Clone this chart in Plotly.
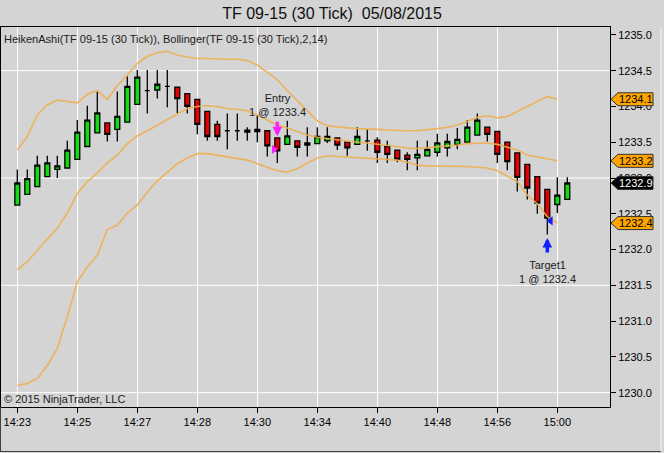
import plotly.graph_objects as go

# ---------------- data ----------------
bar_index = list(range(56))

ha_open = [1232.62, 1232.77, 1232.88, 1233.02, 1233.12, 1233.14, 1233.26, 1233.44, 1233.63, 1233.77,
           1233.68, 1233.78, 1234.03, 1234.22, 1234.23, 1234.28, 1234.27, 1234.18, 1234.10, 1233.93,
           1233.75, 1233.66, 1233.66, 1233.67, 1233.65, 1233.66, 1233.56, 1233.47, 1233.52, 1233.49,
           1233.48, 1233.52, 1233.56, 1233.50, 1233.47, 1233.52, 1233.53, 1233.44, 1233.39, 1233.32,
           1233.28, 1233.31, 1233.36, 1233.42, 1233.47, 1233.50, 1233.60, 1233.71, 1233.65, 1233.50,
           1233.35, 1233.19, 1233.02, 1232.84, 1232.63, 1232.70]
ha_high = [1233.12, 1233.12, 1233.31, 1233.31, 1233.31, 1233.52, 1233.81, 1234.01, 1234.21, 1233.77,
           1234.21, 1234.42, 1234.51, 1234.51, 1234.51, 1234.51, 1234.27, 1234.18, 1234.10, 1233.93,
           1233.80, 1233.90, 1233.90, 1233.71, 1233.88, 1233.66, 1233.56, 1233.80, 1233.52, 1233.71,
           1233.71, 1233.71, 1233.56, 1233.50, 1233.71, 1233.68, 1233.57, 1233.52, 1233.39, 1233.36,
           1233.52, 1233.52, 1233.62, 1233.62, 1233.70, 1233.81, 1233.90, 1233.71, 1233.65, 1233.50,
           1233.35, 1233.19, 1233.02, 1232.84, 1233.01, 1233.01]
ha_low = [1232.62, 1232.77, 1232.88, 1233.02, 1233.00, 1233.14, 1233.26, 1233.44, 1233.63, 1233.51,
          1233.51, 1233.78, 1234.03, 1233.90, 1234.11, 1233.99, 1233.91, 1233.90, 1233.61, 1233.52,
          1233.52, 1233.40, 1233.52, 1233.52, 1233.50, 1233.30, 1233.21, 1233.47, 1233.30, 1233.30,
          1233.48, 1233.49, 1233.39, 1233.31, 1233.47, 1233.38, 1233.21, 1233.21, 1233.22, 1233.11,
          1233.11, 1233.31, 1233.30, 1233.30, 1233.40, 1233.50, 1233.60, 1233.51, 1233.21, 1233.11,
          1232.81, 1232.70, 1232.50, 1232.21, 1232.51, 1232.70]
ha_close = [1232.93, 1232.99, 1233.18, 1233.21, 1233.17, 1233.39, 1233.64, 1233.81, 1233.91, 1233.61,
            1233.86, 1234.28, 1234.41, 1234.22, 1234.31, 1234.28, 1234.11, 1234.00, 1233.75, 1233.58,
            1233.58, 1233.66, 1233.66, 1233.64, 1233.68, 1233.45, 1233.38, 1233.59, 1233.43, 1233.46,
            1233.58, 1233.58, 1233.46, 1233.42, 1233.58, 1233.52, 1233.36, 1233.33, 1233.26, 1233.26,
            1233.33, 1233.40, 1233.49, 1233.51, 1233.54, 1233.71, 1233.81, 1233.61, 1233.33, 1233.23,
            1233.01, 1232.86, 1232.65, 1232.44, 1232.76, 1232.93]

band_index = list(range(55))
bb_upper = [1233.39, 1233.58, 1233.88, 1234.02, 1234.09, 1234.07, 1234.05, 1234.17, 1234.22, 1234.10,
            1234.29, 1234.44, 1234.60, 1234.70, 1234.75, 1234.77, 1234.72, 1234.69, 1234.67, 1234.67,
            1234.66, 1234.66, 1234.66, 1234.64, 1234.58, 1234.48, 1234.37, 1234.22, 1234.08, 1233.93,
            1233.80, 1233.73, 1233.71, 1233.70, 1233.69, 1233.69, 1233.68, 1233.67, 1233.66, 1233.66,
            1233.66, 1233.67, 1233.69, 1233.71, 1233.74, 1233.79, 1233.85, 1233.87, 1233.84, 1233.86,
            1233.93, 1234.00, 1234.07, 1234.14, 1234.10]
bb_middle = [1231.72, 1231.83, 1231.99, 1232.14, 1232.30, 1232.51, 1232.78, 1232.95, 1233.07, 1233.21,
             1233.32, 1233.48, 1233.59, 1233.66, 1233.74, 1233.81, 1233.90, 1233.97, 1234.00, 1234.01,
             1234.00, 1233.97, 1233.96, 1233.94, 1233.88, 1233.81, 1233.74, 1233.70, 1233.65, 1233.60,
             1233.57, 1233.55, 1233.53, 1233.51, 1233.50, 1233.49, 1233.47, 1233.45, 1233.43, 1233.42,
             1233.41, 1233.42, 1233.43, 1233.45, 1233.46, 1233.48, 1233.49, 1233.49, 1233.47, 1233.43,
             1233.39, 1233.32, 1233.29, 1233.26, 1233.24]
bb_lower = [1230.10, 1230.13, 1230.20, 1230.38, 1230.62, 1231.06, 1231.55, 1231.76, 1231.92, 1232.28,
            1232.34, 1232.51, 1232.62, 1232.80, 1232.96, 1233.08, 1233.20, 1233.28, 1233.34, 1233.34,
            1233.32, 1233.30, 1233.28, 1233.25, 1233.20, 1233.15, 1233.10, 1233.08, 1233.13, 1233.21,
            1233.28, 1233.31, 1233.30, 1233.29, 1233.28, 1233.28, 1233.27, 1233.26, 1233.25, 1233.22,
            1233.18, 1233.17, 1233.17, 1233.17, 1233.17, 1233.16, 1233.15, 1233.14, 1233.10, 1233.02,
            1232.95, 1232.76, 1232.64, 1232.46, 1232.37]

tick_bars = [0, 6, 12, 18, 24, 30, 36, 42, 48, 54]
tick_labels = ["14:23", "14:25", "14:27", "14:28", "14:30", "14:34", "14:40", "14:48", "14:56", "15:00"]
grid_levels = [1230.0, 1231.5, 1233.0, 1234.5]

entry_bar = 26
entry_price = 1233.4
entry_qty = 1
target_bar = 53
target_price = 1232.4
target_qty = 1

# ---------------- style ----------------
BG = "#d4d4d4"
BAND = "#f0b050"
FONT = "Liberation Sans, Arial, sans-serif"

fig = go.Figure()

fig.add_trace(go.Candlestick(
    x=bar_index, open=ha_open, high=ha_high, low=ha_low, close=ha_close,
    increasing=dict(line=dict(color="black", width=1.3), fillcolor="#10dc10"),
    decreasing=dict(line=dict(color="black", width=1.3), fillcolor="#e80000"),
    whiskerwidth=0, hoverinfo="skip", showlegend=False))

for band in (bb_upper, bb_middle, bb_lower):
    fig.add_trace(go.Scatter(x=band_index, y=band, mode="lines",
                             line=dict(color=BAND, width=1.6), opacity=0.9,
                             hoverinfo="skip", showlegend=False))

# execution markers
fig.add_trace(go.Scatter(x=[entry_bar - 0.33], y=[entry_price], mode="markers",
                         marker=dict(symbol="triangle-right", size=8, color="#ff22ff"),
                         hoverinfo="skip", showlegend=False))
fig.add_trace(go.Scatter(x=[target_bar + 0.33], y=[target_price], mode="markers",
                         marker=dict(symbol="triangle-left", size=8, color="#1020ff"),
                         hoverinfo="skip", showlegend=False))

# arrows
fig.add_annotation(x=entry_bar, y=entry_price, xref="x", yref="y", text="", showarrow=True,
                   ax=0, ay=-16, yshift=13, arrowhead=2, arrowsize=0.55, arrowwidth=3.5,
                   arrowcolor="#ff22ff")
fig.add_annotation(x=target_bar, y=target_price, xref="x", yref="y", text="", showarrow=True,
                   ax=0, ay=16, yshift=-17, arrowhead=2, arrowsize=0.55, arrowwidth=3.5,
                   arrowcolor="#1020ff")
fig.add_annotation(x=entry_bar, y=entry_price, xref="x", yref="y",
                   text=f"Entry<br>{entry_qty} @ {entry_price:.1f}", showarrow=False,
                   yshift=44, font=dict(family=FONT, size=11, color="#202020"))
fig.add_annotation(x=target_bar, y=target_price, xref="x", yref="y",
                   text=f"Target1<br>{target_qty} @ {target_price:.1f}", showarrow=False,
                   yshift=-51, font=dict(family=FONT, size=11, color="#202020"))

# horizontal gridlines
for g in grid_levels:
    fig.add_shape(type="line", xref="paper", yref="y", x0=0, x1=1, y0=g, y1=g,
                  line=dict(color="white", width=1), layer="below")

# right-side price tags
def tag(value, fill, txt):
    fig.add_shape(type="path", xref="paper", yref="y", xsizemode="pixel", ysizemode="pixel",
                  xanchor=1, yanchor=value,
                  path="M 1 0 L 8 6.5 L 43 6.5 L 43 -6.5 L 8 -6.5 Z",
                  fillcolor=fill, line=dict(color="#303030", width=1), layer="above")
    fig.add_annotation(xref="paper", yref="y", x=1, y=value, xanchor="left", yanchor="middle",
                       xshift=7, text=f"{value:.1f}", showarrow=False,
                       font=dict(family=FONT, size=11, color=txt))

tag(bb_upper[-1], "#ffa500", "black")
tag(bb_middle[-1], "#ffa500", "black")
tag(bb_lower[-1], "#ffa500", "black")
tag(ha_close[-1], "black", "white")

# texts
fig.add_annotation(xref="paper", yref="paper", x=0, y=1, xanchor="left", yanchor="top",
                   xshift=1, yshift=-4, showarrow=False,
                   text="HeikenAshi(TF 09-15 (30 Tick)), Bollinger(TF 09-15 (30 Tick),2,14)",
                   font=dict(family=FONT, size=11, color="#202020"))
fig.add_annotation(xref="paper", yref="paper", x=0, y=0, xanchor="left", yanchor="bottom",
                   xshift=1, yshift=0, showarrow=False, text="© 2015 NinjaTrader, LLC",
                   font=dict(family=FONT, size=11, color="#202020"))

# outer frame
fig.add_shape(type="line", xref="paper", yref="paper", x0=-1/609, x1=660/609,
              y0=-44.5/380, y1=-44.5/380, line=dict(color="#404040", width=1))
fig.add_shape(type="line", xref="paper", yref="paper", x0=-0.5/609, x1=-0.5/609,
              y0=-44.5/380, y1=0, line=dict(color="#404040", width=1))
fig.add_shape(type="line", xref="paper", yref="paper", x0=660/609, x1=660/609,
              y0=-44.5/380, y1=1, line=dict(color="#f4f4f4", width=1))

fig.update_layout(
    width=664, height=453,
    margin=dict(l=1, r=54, t=27, b=46),
    paper_bgcolor=BG, plot_bgcolor=BG,
    showlegend=False, hovermode=False,
    title=dict(text="TF 09-15 (30 Tick) \u00a005/08/2015", x=0.5, xref="container", xanchor="center",
               y=1 - 13/453, yref="container", yanchor="middle",
               font=dict(family=FONT, size=16, color="#101010")),
    font=dict(family=FONT, size=11, color="black"),
    xaxis=dict(range=[-1.63, 59.27], tickvals=tick_bars, ticktext=tick_labels,
               showgrid=True, gridcolor="white", gridwidth=1, zeroline=False,
               showline=True, linecolor="black", linewidth=1, mirror=True,
               ticks="outside", ticklen=5, tickcolor="black",
               tickfont=dict(family=FONT, size=11, color="black"),
               rangeslider=dict(visible=False), fixedrange=True),
    yaxis=dict(range=[1229.80, 1235.11], side="right", dtick=0.5, tick0=1230.0, tickformat=".1f",
               showgrid=False, zeroline=False,
               showline=True, linecolor="black", linewidth=1, mirror=True,
               ticks="outside", ticklen=5, tickcolor="black",
               tickfont=dict(family=FONT, size=11, color="black"), fixedrange=True),
)

fig.write_html("out.html", config={"displayModeBar": False},
               post_script="document.body.style.margin='0';document.body.style.overflow='hidden';")
